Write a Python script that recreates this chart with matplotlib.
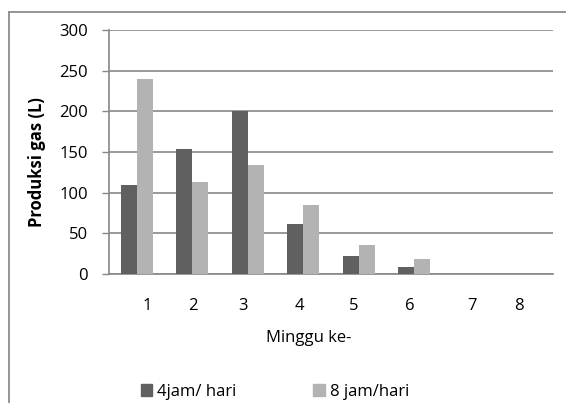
import matplotlib
matplotlib.use('Agg')
import matplotlib.pyplot as plt
from matplotlib.lines import Line2D
from matplotlib.patches import Patch
import numpy as np

# data
weeks = ['1', '2', '3', '4', '5', '6', '7', '8']
gas_4jam = [110, 154, 201, 62, 22, 9, 0, 0]
gas_8jam = [240, 113, 134, 85, 36, 18, 0, 0]
series_names = ['4jam/ hari', '8 jam/hari']
# where the week numbers sit (the source has them a bit off-centre)
label_pos = [1.18, 2.01, 2.91, 3.94, 4.9, 5.92, 7.04, 7.89]
yticks = [0, 50, 100, 150, 200, 250, 300]

dark = '#606060'
light = '#b3b3b3'
grid = '#878787'
txt = '#000000'

plt.rcParams['font.family'] = ['Open Sans', 'DejaVu Sans']

fig = plt.figure(figsize=(5.66, 4.03), dpi=100)
ax = fig.add_axes([109/566, 1 - 274/403, 444/566, 244/403])

x = np.arange(1, len(weeks) + 1)
w = 0.29
ax.bar(x - w/2, gas_4jam, width=w, color=dark, zorder=3)
ax.bar(x + w/2, gas_8jam, width=w, color=light, zorder=3)

ax.set_xlim(0.5, len(weeks) + 0.5)
ax.set_ylim(0, 300)
ax.set_yticks(yticks)
ax.set_yticklabels([str(v) for v in yticks], fontsize=12, color=txt)
ax.set_xticks(label_pos)
ax.set_xticklabels(weeks, fontsize=12, color=txt)
ax.tick_params(axis='x', length=0, pad=17)
ax.tick_params(axis='y', length=5, width=1, color=grid, pad=10)

ax.yaxis.grid(True, color=grid, linewidth=1.2, zorder=0)
ax.set_axisbelow(True)
for s in ['top', 'right']:
    ax.spines[s].set_visible(False)
for s in ['left', 'bottom']:
    ax.spines[s].set_color(grid)
    ax.spines[s].set_linewidth(1.2)

fig.text(309/566, 1 - 338/403, 'Minggu ke-', fontsize=12, color=txt,
         ha='center', va='center')
fig.text(37/566, 1 - 162/403, 'Produksi gas (L)', fontsize=12, color=txt,
         fontweight='bold', rotation=90, ha='center', va='center')

handles = [Patch(color=dark), Patch(color=light)]
fig.legend(handles, series_names, loc='center', ncol=2, frameon=False,
           bbox_to_anchor=(275/566, 1 - 392/403), fontsize=12,
           handlelength=0.7, handleheight=0.7, handletextpad=0.3,
           columnspacing=4.6)

# chart-area border (only left and top show in the source)
fig.add_artist(Line2D([9/566, 9/566], [0, 1 - 12/403], color='#8c8c8c', lw=1.3))
fig.add_artist(Line2D([9/566, 1], [1 - 12/403, 1 - 12/403], color='#8c8c8c', lw=1.3))

fig.savefig('out.png', dpi=100)
